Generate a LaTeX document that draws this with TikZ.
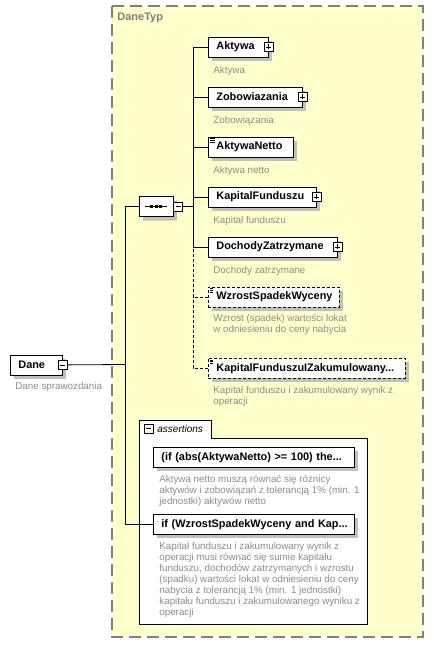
\documentclass[tikz,border=0pt]{standalone}
\usepackage{fontspec}
\setmainfont{Liberation Sans}
\usepackage{xcolor}
\usetikzlibrary{positioning, shapes.misc, shadows}

\definecolor{typefill}{RGB}{255,255,204}
\definecolor{typeedge}{RGB}{128,128,128}
\definecolor{docgray}{RGB}{140,140,140}
\definecolor{shadowgray}{RGB}{192,192,192}

\tikzset{
  elem/.style={draw, fill=white, anchor=north west, minimum height=20pt,
    inner xsep=8pt, inner ysep=0pt, align=left,
    font=\bfseries\fontsize{10.9}{12}\selectfont,
    drop shadow={shadow xshift=4pt, shadow yshift=-4pt, fill=shadowgray, opacity=1}},
  optional/.style={dash pattern=on 3pt off 2pt},
  simple/.style={path picture={
    \foreach \d in {1.5,3.2,4.9}
      \draw[line width=0.5pt] ([shift={(2pt,-\d*1pt)}]path picture bounding box.north west) -- ++(4.5pt,0pt);}},
  doc/.style={anchor=north west, inner sep=0pt, align=left, text=docgray,
    font=\fontsize{9.8}{11}\selectfont, execute at begin node=\rule{0pt}{9pt}},
  expand/.style={draw, fill=white, minimum width=9pt, minimum height=9pt, inner sep=0pt,
    path picture={\draw ([xshift=2pt]path picture bounding box.west) -- ([xshift=-2pt]path picture bounding box.east)
      ([yshift=-2pt]path picture bounding box.north) -- ([yshift=2pt]path picture bounding box.south);}},
  collapse/.style={draw, fill=white, minimum width=9pt, minimum height=9pt, inner sep=0pt,
    path picture={\draw ([xshift=2pt]path picture bounding box.west) -- ([xshift=-2pt]path picture bounding box.east);}},
  seqbox/.style={chamfered rectangle, chamfered rectangle xsep=5pt, draw, fill=white,
    minimum width=34pt, minimum height=20pt, inner sep=0pt,
    drop shadow={shadow xshift=4pt, shadow yshift=-4pt, fill=shadowgray, opacity=1}}
}

\begin{document}
\begin{tikzpicture}[x=1pt, y=-1pt, line width=0.8pt]
    \useasboundingbox (0,0) rectangle (434,654);

    % Complex type area
    \draw[fill=typefill, draw=typeedge, line width=1.2pt, dash pattern=on 12pt off 6pt] (112,6) rectangle (423,637);
    \node[anchor=west, inner sep=0pt, text=typeedge, font=\bfseries\fontsize{11}{12}\selectfont] (danetyp) at (117,18) {DaneTyp};

    % Root element
    \node[elem, text width=36pt] (dane) at (10,354.5) {Dane};
    \node[collapse] (dane-x) at (dane.east) {};
    \node[doc] (dane-d) at ([shift={(5,5)}]dane.south west) {Dane sprawozdania};

    % Sequence
    \node[seqbox] (seq) at (156,206.5) {};
    \draw (seq.center) ++(-11,0) -- ++(22,0);
    \foreach \dx in {-4.5,0,4.5}
      \fill (seq.center) ++(\dx,0) +(-1.5,-1.5) rectangle +(1.5,1.5);
    \node[collapse, anchor=west] (seq-x) at (seq.east) {};

    % Children
    \node[elem, text width=44pt] (aktywa) at (208,36.5) {Aktywa};
    \node[expand] (aktywa-x) at (aktywa.east) {};
    \node[doc] (aktywa-d) at ([shift={(5,7)}]aktywa.south west) {Aktywa};

    \node[elem, text width=78pt] (zobow) at (208,86.5) {Zobowiazania};
    \node[expand] (zobow-x) at (zobow.east) {};
    \node[doc] (zobow-d) at ([shift={(5,7)}]zobow.south west) {Zobowiązania};

    \node[elem, simple, text width=69pt] (netto) at (208,136.5) {AktywaNetto};
    \node[doc] (netto-d) at ([shift={(5,7)}]netto.south west) {Aktywa netto};

    \node[elem, text width=92pt] (kapfund) at (208,186.5) {KapitalFunduszu};
    \node[expand] (kapfund-x) at (kapfund.east) {};
    \node[doc] (kapfund-d) at ([shift={(5,7)}]kapfund.south west) {Kapitał funduszu};

    \node[elem, text width=113pt] (dochody) at (208,236.5) {DochodyZatrzymane};
    \node[expand] (dochody-x) at (dochody.east) {};
    \node[doc] (dochody-d) at ([shift={(5,7)}]dochody.south west) {Dochody zatrzymane};

    \node[elem, simple, optional, text width=115pt] (wzrost) at (208,286.5) {WzrostSpadekWyceny};
    \node[doc] (wzrost-d) at ([shift={(5,7)}]wzrost.south west) {Wzrost (spadek) wartości lokat\\w odniesieniu do ceny nabycia};

    \node[elem, simple, optional, text width=181pt] (kfiz) at (208,358) {KapitalFunduszuIZakumulowany...};
    \node[doc] (kfiz-d) at ([shift={(5,7)}]kfiz.south west) {Kapitał funduszu i zakumulowany wynik z\\operacji};

    % Assertions
    \draw[fill=white] (139,420) -- (211,420) -- (211,438) -- (367,438) -- (367,624) -- (139,624) -- cycle;
    \node[collapse] (asrt-x) at (148.5,428.5) {};
    \node[anchor=west, inner sep=0pt, font=\itshape\fontsize{10}{12}\selectfont] (asrt-t) at (157,429) {assertions};

    \node[elem, text width=185pt] (asrt1) at (153,447) {\mbox{(if (abs(AktywaNetto) >= 100) the...}};
    \node[doc] (asrt1-d) at ([shift={(6,7.5)}]asrt1.south west) {Aktywa netto muszą równać się różnicy\\aktywów i zobowiązań z tolerancją 1\% (min. 1\\jednostki) aktywów netto};

    \node[elem, text width=185pt] (asrt2) at (153,514) {\mbox{if (WzrostSpadekWyceny and Kap...}};
    \node[doc] (asrt2-d) at ([shift={(6,7.5)}]asrt2.south west) {Kapitał funduszu i zakumulowany wynik z\\operacji musi równać się sumie kapitału\\funduszu, dochodów zatrzymanych i wzrostu\\(spadku) wartości lokat w odniesieniu do ceny\\nabycia z tolerancją 1\% (min. 1 jednostki)\\kapitału funduszu i zakumulowanego wyniku z\\operacji};

    % Connectors
    \coordinate (trunk) at (125,364.5);
    \coordinate (bus) at (193,206.5);
    \draw (dane-x) -- (trunk);
    \draw (seq) -| (trunk);
    \draw (trunk) |- (asrt2);
    \draw (seq-x) -- (bus);
    \draw (aktywa) -| (bus);
    \draw (dochody) -| (bus);
    \draw (zobow) -- (zobow -| bus);
    \draw (netto) -- (netto -| bus);
    \draw (kapfund) -- (kapfund -| bus);
    \draw[optional] (wzrost) -| (dochody -| bus);
    \draw[optional] (kfiz) -| (wzrost -| bus);
\end{tikzpicture}
\end{document}
